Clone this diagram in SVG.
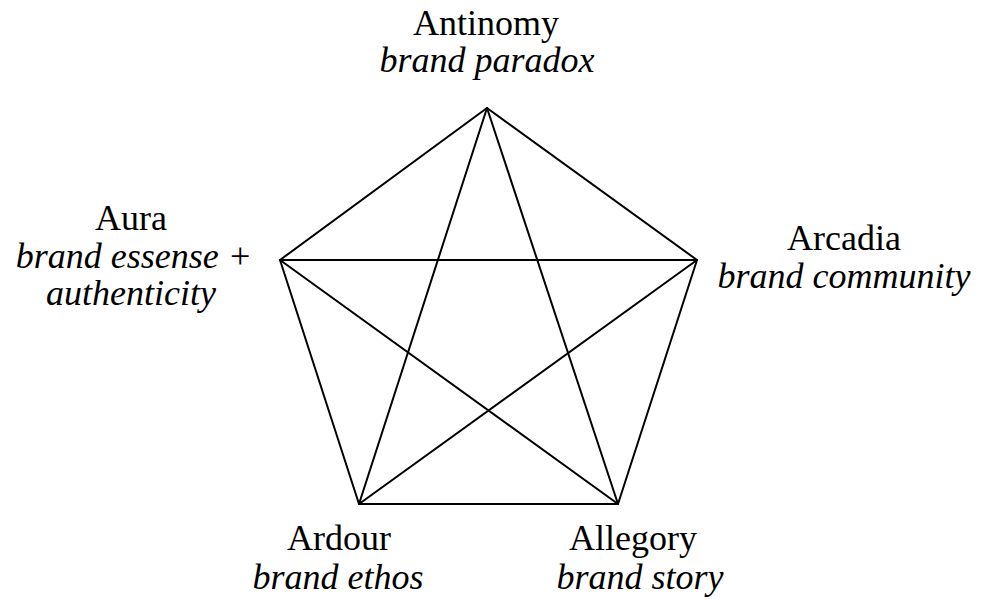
<svg xmlns="http://www.w3.org/2000/svg" width="985" height="599" viewBox="0 0 985 599">
<style>
text{font-family:"Liberation Serif","Times New Roman",serif;font-size:36px;fill:#000;text-anchor:middle}
.i{font-style:italic}
.c line{stroke:#000;stroke-width:2;stroke-linecap:round}
</style>
<rect width="985" height="599" fill="#fff"/>
<g class="c" id="connectors">
<line x1="487" y1="108" x2="697" y2="260"/>
<line x1="697" y1="260" x2="618" y2="504"/>
<line x1="618" y1="504" x2="359" y2="504"/>
<line x1="359" y1="504" x2="280" y2="260"/>
<line x1="280" y1="260" x2="487" y2="108"/>
<line x1="487" y1="108" x2="618" y2="504"/>
<line x1="487" y1="108" x2="359" y2="504"/>
<line x1="280" y1="260" x2="697" y2="260"/>
<line x1="280" y1="260" x2="618" y2="504"/>
<line x1="697" y1="260" x2="359" y2="504"/>
</g>
<g id="antinomy"><text x="486" y="35">Antinomy</text><text class="i" x="487" y="72">brand paradox</text></g>
<g id="aura"><text x="131" y="230">Aura</text><text class="i" x="134" y="268">brand essense +</text><text class="i" x="131" y="305">authenticity</text></g>
<g id="arcadia"><text x="844" y="250">Arcadia</text><text class="i" x="844" y="288">brand community</text></g>
<g id="ardour"><text x="339" y="550">Ardour</text><text class="i" x="338" y="589">brand ethos</text></g>
<g id="allegory"><text x="633" y="550">Allegory</text><text class="i" x="640" y="589">brand story</text></g>
</svg>
